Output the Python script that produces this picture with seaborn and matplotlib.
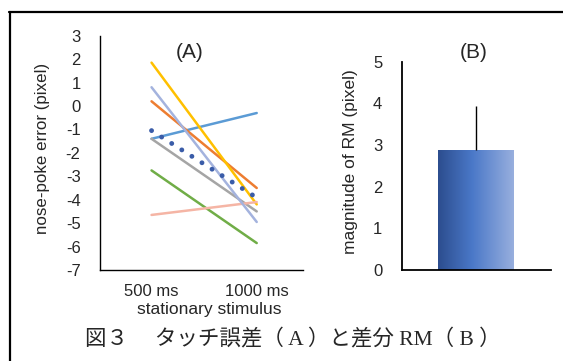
import matplotlib
matplotlib.use("Agg")
import matplotlib.pyplot as plt
import numpy as np
import pandas as pd
import seaborn as sns
from matplotlib.lines import Line2D
from matplotlib.colors import LinearSegmentedColormap

# ---- data ----
conditions = ["500 ms", "1000 ms"]
subjects = ["s1", "s2", "s3", "s4", "s5", "s6", "s7"]
err_500 = [-1.40, 0.20, -1.40, 1.85, -2.75, -4.65, 0.80]
err_1000 = [-0.30, -3.50, -4.50, -4.20, -5.85, -4.10, -4.95]
line_colors = ["#5B9BD5", "#ED7D31", "#A5A5A5", "#FFC000", "#70AD47", "#F5B5A5", "#A4B3DE"]
mean_color = "#3A5CA8"

rm_label = ["RM"]
rm_value = [2.88]
rm_err = [1.05]

yticks_a = [3, 2, 1, 0, -1, -2, -3, -4, -5, -6, -7]
yticks_b = [0, 1, 2, 3, 4, 5]

caption = "図３　 タッチ誤差（ A ）と差分 RM（ B ）"

# ---- style ----
sns.set_style("white")
plt.rcParams["font.family"] = ["Liberation Sans", "Noto Sans CJK JP"]

W, H = 563, 361
fig = plt.figure(figsize=(W / 100, H / 100), dpi=100)

def fx(px):
    return px / W

def fy(py):
    return 1 - py / H

# ---- panel A ----
axA = fig.add_axes([fx(100), fy(270), fx(303) - fx(100), fy(35.7) - fy(270)])
rows = []
for s, a, b in zip(subjects, err_500, err_1000):
    rows.append({"subject": s, "pos": 0, "value": a})
    rows.append({"subject": s, "pos": 1, "value": b})
df = pd.DataFrame(rows)
sns.lineplot(data=df, x="pos", y="value", hue="subject", hue_order=subjects,
             palette=line_colors, linewidth=1.8, legend=False, ax=axA,
             estimator=None, sort=False)
mean_df = pd.DataFrame({"pos": [0, 1],
                        "value": [np.mean(err_500), np.mean(err_1000)]})
sns.lineplot(data=mean_df, x="pos", y="value", color=mean_color,
             linewidth=3.5, linestyle=(0, (0.01, 2.45)),
             dash_capstyle="round", ax=axA, zorder=10)

axA.set_xlim(-0.49, 1.44)
axA.set_ylim(-7, 3)
axA.set_yticks(yticks_a)
axA.set_yticklabels([str(t) for t in yticks_a])
axA.set_xticks([0, 1])
axA.set_xticklabels(conditions)
axA.tick_params(axis="y", length=0, pad=14, labelsize=12)
axA.tick_params(axis="x", length=0, pad=10, labelsize=12)
axA.set_ylabel("nose-poke error (pixel)", fontsize=12.2)
axA.yaxis.set_label_coords(-0.245, 0.52)
axA.set_xlabel("stationary stimulus", fontsize=12.5, va="top")
axA.xaxis.set_label_coords(0.537, -0.135)
for sp in ["top", "right"]:
    axA.spines[sp].set_visible(False)
for sp in ["left", "bottom"]:
    axA.spines[sp].set_color("black")
    axA.spines[sp].set_linewidth(1.0)

# ---- panel B ----
axB = fig.add_axes([fx(401.7), fy(270), fx(550.7) - fx(401.7), fy(61.7) - fy(270)])
sns.barplot(x=rm_label, y=rm_value, width=0.51, color="#4A78C8", ax=axB,
            errorbar=None)
bar = axB.patches[0]
x0, y0 = bar.get_x(), bar.get_y()
bw, bh = bar.get_width(), bar.get_height()
cmap = LinearSegmentedColormap.from_list(
    "grad", [(0.0, "#2C4D8E"), (0.45, "#4A78C8"), (1.0, "#98AFDE")])
grad = np.linspace(0, 1, 256).reshape(1, -1)
im = axB.imshow(grad, cmap=cmap, aspect="auto",
                extent=[x0, x0 + bw, y0, y0 + bh], zorder=bar.get_zorder() + 0.1)
im.set_clip_path(bar)
axB.errorbar([0], rm_value, yerr=[[0], rm_err], fmt="none", ecolor="black",
             elinewidth=1.0, capsize=0, zorder=5)
axB.set_xlim(-0.5, 0.5)
axB.set_ylim(0, 5)
axB.set_yticks(yticks_b)
axB.set_yticklabels([str(t) for t in yticks_b])
axB.set_xticks([])
axB.tick_params(axis="y", length=0, pad=14, labelsize=12)
axB.set_ylabel("magnitude of RM (pixel)", fontsize=12.5)
axB.yaxis.set_label_coords(-0.293, 0.518)
for sp in ["top", "right"]:
    axB.spines[sp].set_visible(False)
for sp in ["left", "bottom"]:
    axB.spines[sp].set_color("black")
    axB.spines[sp].set_linewidth(1.3)

# ---- titles, caption, frame ----
fig.text(fx(190), fy(52), "(A)", fontsize=15, ha="center", va="center")
fig.text(fx(474), fy(52), "(B)", fontsize=15, ha="center", va="center")
fig.text(fx(293), fy(340), caption, fontsize=15.5, ha="center", va="center",
         family=["Liberation Serif", "Noto Sans CJK JP"])

fig.add_artist(Line2D([fx(9), 1], [fy(12), fy(12)], color="black", lw=1.6,
                      transform=fig.transFigure))
fig.add_artist(Line2D([fx(10), fx(10)], [0, fy(11.5)], color="black", lw=1.6,
                      transform=fig.transFigure))

fig.savefig("out.png", dpi=100)
